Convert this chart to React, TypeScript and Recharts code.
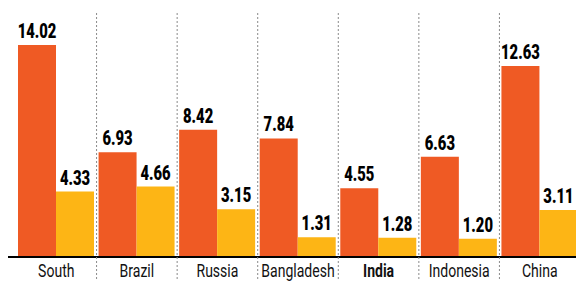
import React from 'react';
import { BarChart, Bar, XAxis, YAxis, LabelList } from 'recharts';

const countries = ['South', 'Brazil', 'Russia', 'Bangladesh', 'India', 'Indonesia', 'China'];
const seriesA = [14.02, 6.93, 8.42, 7.84, 4.55, 6.63, 12.63];
const seriesB = [4.33, 4.66, 3.15, 1.31, 1.28, 1.2, 3.11];
const boldCountry = 'India';

const data = countries.map((c, i) => ({ name: c, a: seriesA[i], b: seriesB[i] }));

const FONT = 'Roboto, "Noto Sans", sans-serif';

const Tick = (props: any) => {
  const { x, y, payload, index } = props;
  const off = payload && typeof payload.offset === 'number' ? payload.offset : 0;
  const bold = payload.value === boldCountry;
  return (
    <g>
      {index > 0 && (
        <line
          x1={x - off}
          x2={x - off}
          y1={y - 244}
          y2={y + 26}
          stroke="#8a8a8a"
          strokeWidth={1}
          strokeDasharray="2 2"
        />
      )}
      <g transform={`translate(${x},${y + 19.5}) scale(0.78,1)`}>
        <text
          x={0}
          y={0}
          textAnchor="middle"
          fill="#111"
          fontFamily={FONT}
          fontSize={18}
          fontWeight={bold ? 700 : 400}
        >
          {payload.value}
        </text>
      </g>
    </g>
  );
};

const ValueLabel = (props: any) => {
  const { x, y, width, value } = props;
  const cx = Number(x) + Number(width) / 2;
  return (
    <g transform={`translate(${cx},${Number(y) - 7}) scale(0.74,1)`}>
      <text
        x={0}
        y={0}
        textAnchor="middle"
        fill="#000"
        fontFamily={FONT}
        fontWeight={900}
        fontSize={20}
      >
        {Number(value).toFixed(2)}
      </text>
    </g>
  );
};

export default function App() {
  return (
    <div style={{ position: 'absolute', left: 0, top: 0, width: 576, height: 281, overflow: 'hidden', background: '#fff' }}>
      <BarChart
        width={580}
        height={281}
        data={data}
        margin={{ top: 15, right: 0, bottom: 0, left: 8 }}
        barCategoryGap={2}
        barGap={0}
      >
        <XAxis
          dataKey="name"
          interval={0}
          padding={{ left: 8, right: 0 }}
          axisLine={{ stroke: '#000', strokeWidth: 2 }}
          tickLine={false}
          tickSize={0}
          tickMargin={0}
          height={24}
          tick={<Tick />}
        />
        <YAxis hide domain={[0, 16]} />
        <Bar dataKey="a" fill="#EF5A24" isAnimationActive={false}>
          <LabelList dataKey="a" content={<ValueLabel />} />
        </Bar>
        <Bar dataKey="b" fill="#FDB515" isAnimationActive={false}>
          <LabelList dataKey="b" content={<ValueLabel />} />
        </Bar>
      </BarChart>
    </div>
  );
}
